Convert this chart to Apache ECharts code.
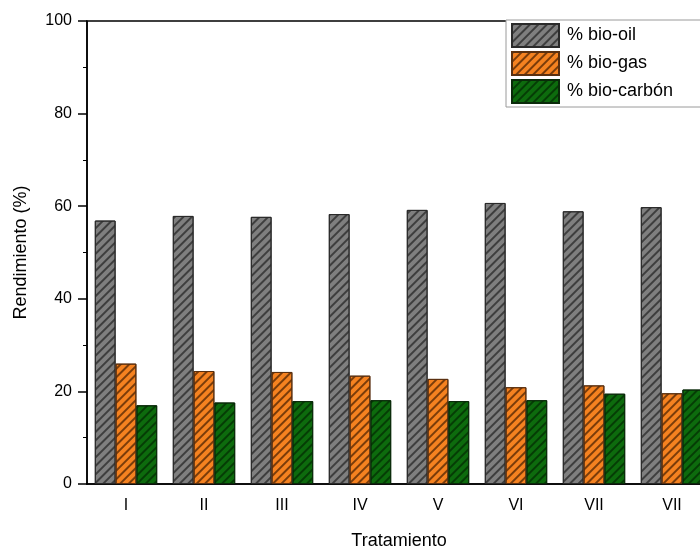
<!DOCTYPE html>
<html>
<head>
    <meta charset="utf-8">
    <title>Rendimiento</title>
    <script src="https://cdn.jsdelivr.net/npm/echarts@6/dist/echarts.min.js"></script>
    <style>
        html, body { margin: 0; padding: 0; background: #fff; }
        #container { width: 700px; height: 551px; }
    </style>
</head>
<body>
<div id="container"></div>
<script>
    // datos
    var categorias = ['I', 'II', 'III', 'IV', 'V', 'VI', 'VII', 'VII'];
    var bioOil = [56.9, 57.9, 57.7, 58.3, 59.2, 60.7, 58.9, 59.8];
    var bioGas = [26.0, 24.4, 24.2, 23.4, 22.7, 20.9, 21.3, 19.6];
    var bioCarbon = [17.0, 17.6, 17.9, 18.1, 17.9, 18.1, 19.5, 20.4];
    var yTicks = [0, 20, 40, 60, 80, 100];

    var fuente = '"Liberation Sans", Arial, sans-serif';

    // rayado diagonal de las barras
    function rayado(c) {
        return {
            symbol: 'rect',
            symbolSize: 1,
            color: c,
            dashArrayX: [1, 0],
            dashArrayY: [1.2, 3.3],
            rotation: -Math.PI / 4
        };
    }

    function serie(nombre, datos, color, borde, lineas) {
        return {
            name: nombre,
            type: 'bar',
            data: datos,
            barGap: '0%',
            barCategoryGap: '20%',
            itemStyle: {
                color: color,
                borderColor: borde,
                borderWidth: 1,
                decal: rayado(lineas)
            }
        };
    }

    var chart = echarts.init(document.getElementById('container'));

    var option = {
        animation: false,
        backgroundColor: '#fff',
        textStyle: { fontFamily: fuente },
        grid: {
            left: 87, top: 21, bottom: 67, width: 624,
            outerBoundsMode: 'none',
            containLabel: false,
            show: true, borderColor: '#000', borderWidth: 1.5,
            backgroundColor: 'transparent'
        },
        legend: {
            orient: 'vertical',
            left: 506, top: 20,
            padding: [3, 40, 3, 5],
            icon: 'rect',
            itemWidth: 47, itemHeight: 23, itemGap: 3,
            backgroundColor: '#fff',
            borderColor: '#9a9a9a', borderWidth: 1,
            textStyle: { fontSize: 18, color: '#000', fontFamily: fuente, padding: [0, 0, 0, 3] },
            data: ['% bio-oil', '% bio-gas', '% bio-carbón']
        },
        xAxis: [{
            type: 'category',
            data: categorias,
            name: 'Tratamiento',
            nameLocation: 'middle',
            nameGap: 48,
            nameTextStyle: { fontSize: 18, color: '#000', fontFamily: fuente },
            axisLine: { lineStyle: { color: '#000', width: 1.5 } },
            axisTick: { alignWithLabel: true, length: 9, lineStyle: { color: '#000', width: 1.5 } },
            axisLabel: { fontSize: 16, color: '#000', margin: 14, fontFamily: fuente, interval: 0 },
            splitLine: { show: false }
        }, {
            // marcas cortas entre categorias
            type: 'category',
            data: categorias,
            position: 'bottom',
            axisLine: { show: false },
            axisTick: { length: 4, lineStyle: { color: '#000', width: 1.5 } },
            axisLabel: { show: false },
            splitLine: { show: false }
        }],
        yAxis: {
            type: 'value',
            min: yTicks[0],
            max: yTicks[yTicks.length - 1],
            interval: 20,
            name: 'Rendimiento (%)',
            nameLocation: 'middle',
            nameGap: 57,
            nameTextStyle: { fontSize: 18, color: '#000', fontFamily: fuente },
            axisLine: { show: true, lineStyle: { color: '#000', width: 1.5 } },
            axisTick: { show: true, length: 9, lineStyle: { color: '#000', width: 1.5 } },
            minorTick: { show: true, splitNumber: 2, length: 4, lineStyle: { color: '#000', width: 1 } },
            axisLabel: { fontSize: 16, color: '#000', margin: 15, fontFamily: fuente },
            splitLine: { show: false }
        },
        series: [
            serie('% bio-oil', bioOil, '#7f7f7f', '#2a2a2a', 'rgba(40,40,40,0.75)'),
            serie('% bio-gas', bioGas, '#f58220', '#5a3010', 'rgba(70,30,0,0.7)'),
            serie('% bio-carbón', bioCarbon, '#0d6b0d', '#0a2a0a', 'rgba(0,30,0,0.6)')
        ]
    };

    chart.setOption(option);
</script>
</body>
</html>
